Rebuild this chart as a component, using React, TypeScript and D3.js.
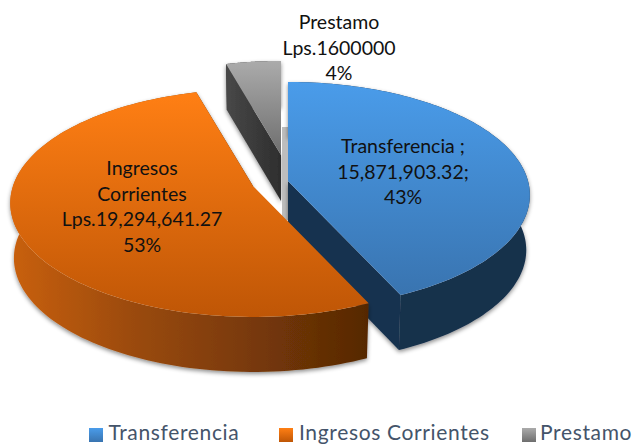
import React from "react";
import * as d3 from "d3";

const categories = ["Transferencia", "Ingresos Corrientes", "Prestamo"];
const values = [15871903.32, 19294641.27, 1600000];
const labels = [
  ["Transferencia ;", "15,871,903.32;", "43%"],
  ["Ingresos", "Corrientes", "Lps.19,294,641.27", "53%"],
  ["Prestamo", "Lps.1600000", "4%"],
];

const W = 633, H = 444;
const apex = [[288, 181], [253, 186], [281, 155]];
const depth = [55, 55, 46];
const perspective = [0.124, 0.15, 0.124];
const radiusScale = [1, 1, 0.95];
const labelPos = [[403, 153], [142, 175], [339, 29]];
const legendX = [89, 279, 522];
const legendTextX = [108.5, 299, 540];
const R = 240, Ry = 111.3, LOW = 0.985;

const arcs = d3.pie<number>().sort(null).startAngle(0).endAngle(2 * Math.PI)(values);

function project(i: number, a: number): [number, number] {
  const x = Math.sin(a), y = -Math.cos(a);
  const s = radiusScale[i] / (1 - perspective[i] * y);
  return [apex[i][0] + R * x * s, apex[i][1] + Ry * y * s];
}
function lower(i: number, p: [number, number]): [number, number] {
  return [apex[i][0] + (p[0] - apex[i][0]) * LOW, p[1] + depth[i]];
}

const line = d3.line<[number, number]>();

function rimPoints(i: number): [number, number][] {
  const { startAngle, endAngle } = arcs[i];
  return d3.range(0, 121).map((k) => project(i, startAngle + ((endAngle - startAngle) * k) / 120));
}
function topPath(i: number) {
  return line([[apex[i][0], apex[i][1]] as [number, number], ...rimPoints(i)]) + "Z";
}
function wallPath(i: number) {
  const rim = rimPoints(i);
  return line([...rim, ...rim.map((p) => lower(i, p)).reverse()]) + "Z";
}
// The radial face that is turned to the viewer: end of the blue slice, start of the grey one.
function cutPath(i: number) {
  const rim = rimPoints(i);
  const e = i === 2 ? rim[0] : rim[rim.length - 1];
  const a = apex[i] as [number, number];
  return line([a, e, lower(i, e), [a[0], a[1] + depth[i]]]) + "Z";
}

const topGrad = [
  ["#4A9CEA", "#3974B0"],
  ["#FF7F14", "#BF5606"],
  ["#ABABAB", "#6E6E6E"],
];
const wallFill = ["#17304C", "url(#wall1)", "#333333"];
const cutFill = ["#17324F", "#5A2A05", "url(#cut2)"];
const order = [2, 0, 1];

export default function App() {
  return (
    <div style={{ position: "fixed", left: 0, top: 0 }}>
      <svg width={W} height={H} viewBox={`0 0 ${W} ${H}`} style={{ display: "block", background: "#fff" }}>
        <defs>
          {topGrad.map((g, i) => (
            <linearGradient key={i} id={`top${i}`} x1="0" y1="0" x2="0" y2="1">
              <stop offset="0" stopColor={g[0]} />
              <stop offset="1" stopColor={g[1]} />
            </linearGradient>
          ))}
          <linearGradient id="wall1" x1="0" y1="0" x2="1" y2="0">
            <stop offset="0" stopColor="#C9600F" />
            <stop offset="0.35" stopColor="#9A4A0C" />
            <stop offset="1" stopColor="#562804" />
          </linearGradient>
          <linearGradient id="cut2" x1="0" y1="0" x2="1" y2="0">
            <stop offset="0" stopColor="#484848" />
            <stop offset="1" stopColor="#2E2E2E" />
          </linearGradient>
          <filter id="shadow" x="-10%" y="-10%" width="120%" height="120%">
            <feDropShadow dx="0" dy="2" stdDeviation="2" floodColor="#000" floodOpacity="0.45" />
          </filter>
        </defs>
        {order.map((i) => (
          <g key={i}>
            <g filter="url(#shadow)">
              <path d={wallPath(i)} fill={wallFill[i]} />
              <path d={cutPath(i)} fill={cutFill[i]} />
            </g>
            <path d={topPath(i)} fill={`url(#top${i})`} />
            {i === 2 && <rect x={282} y={127} width={6} height={93} fill="#BDBDBD" />}
          </g>
        ))}
        <g fontFamily="Lato, sans-serif" fontSize={19.5} fill="#111" textAnchor="middle">
          {labels.map((ls, i) =>
            ls.map((t, j) => (
              <text key={j} x={labelPos[i][0]} y={labelPos[i][1] + j * 25.7}>{t}</text>
            ))
          )}
        </g>
        <g fontFamily="Lato, sans-serif" fontSize={21} letterSpacing={0.65} fill="#44546A">
          {categories.map((c, i) => (
            <g key={c}>
              <rect x={legendX[i]} y={428} width={14} height={14} fill={`url(#top${i})`} />
              <text x={legendTextX[i]} y={439.5}>{c}</text>
            </g>
          ))}
        </g>
      </svg>
    </div>
  );
}
